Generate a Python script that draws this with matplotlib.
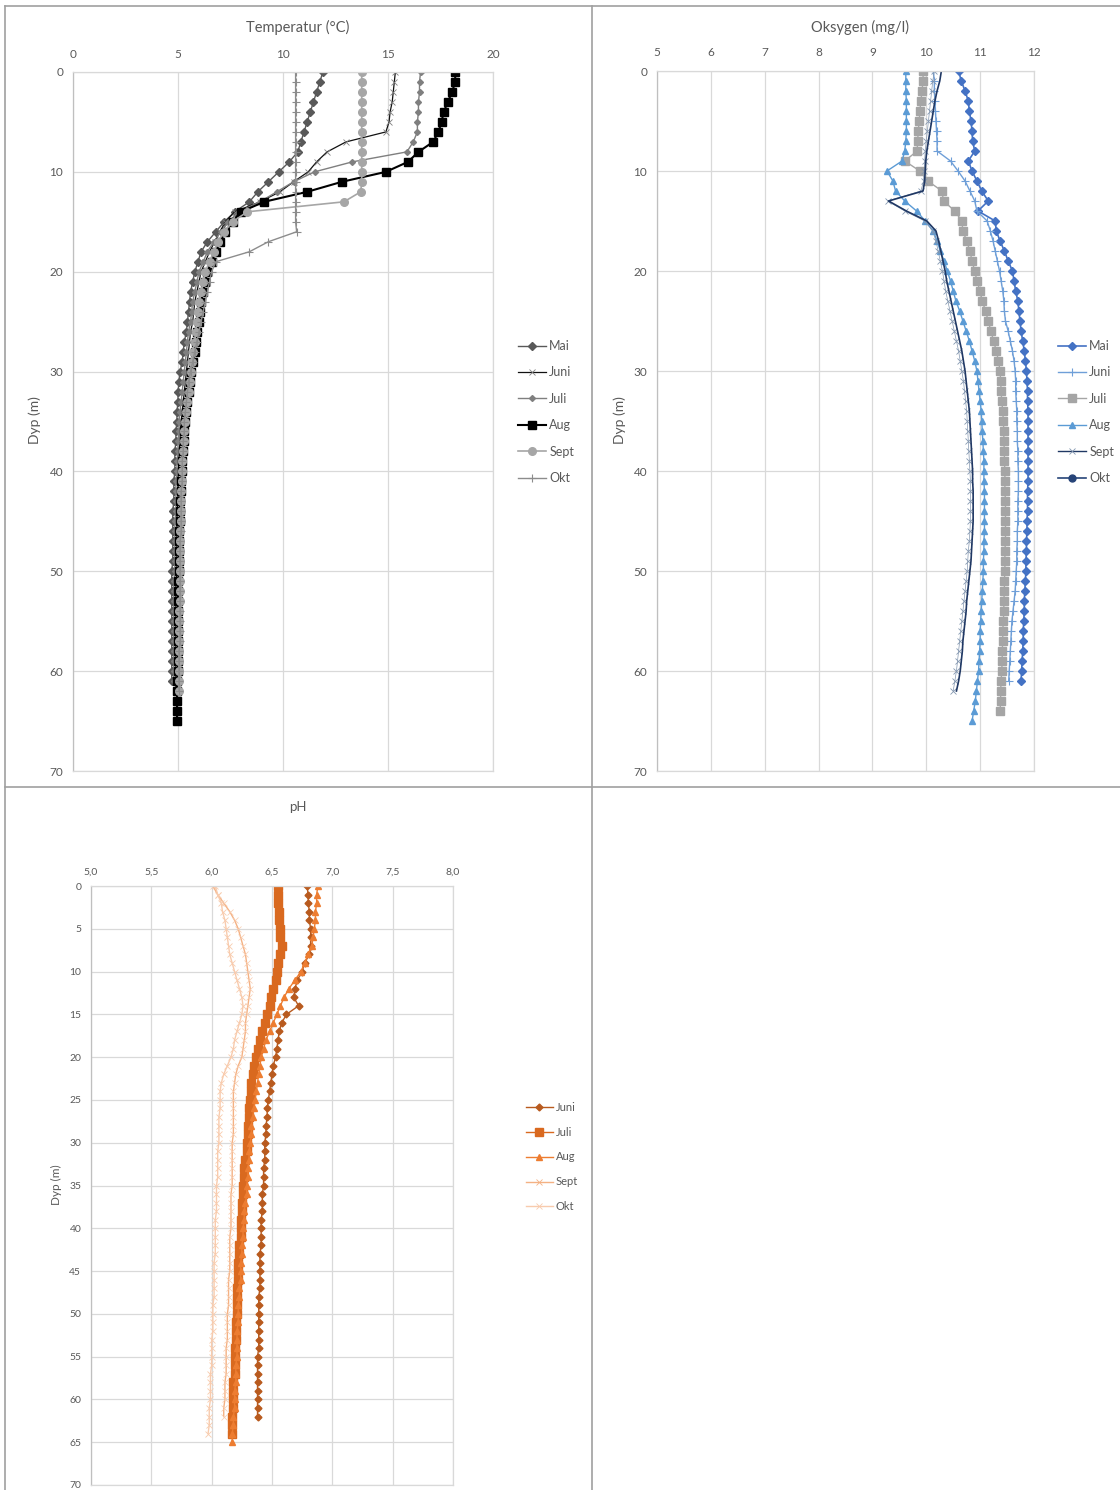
import matplotlib
matplotlib.use("Agg")
import matplotlib.pyplot as plt
from matplotlib.lines import Line2D
from matplotlib.ticker import FuncFormatter

plt.rcParams['font.family'] = ['Lato', 'DejaVu Sans']

# depth in metres, one reading per metre
depths = list(range(66))

# --- Temperatur (°C) ---
temp_mai = [11.9, 11.75, 11.6, 11.45, 11.3, 11.15, 11.0, 10.85, 10.7, 10.3,
            9.8, 9.3, 8.8, 8.4, 7.7, 7.2, 6.8, 6.4, 6.1, 5.95,
            5.8, 5.7, 5.6, 5.55, 5.5, 5.45, 5.4, 5.3, 5.25, 5.2,
            5.1, 5.05, 5.0, 5.0, 4.95, 4.95, 4.9, 4.9, 4.85, 4.85,
            4.85, 4.8, 4.8, 4.8, 4.75, 4.75, 4.75, 4.75, 4.75, 4.75,
            4.7, 4.7, 4.7, 4.7, 4.7, 4.7, 4.7, 4.7, 4.7, 4.7,
            4.7, 4.7]
temp_juni = [15.35, 15.3, 15.25, 15.2, 15.1, 15.05, 14.9, 13.0, 12.1, 11.6,
             11.2, 10.5, 9.85, 8.9, 7.7, 7.25, 7.0, 6.75, 6.5, 6.3,
             6.1, 6.0, 5.9, 5.8, 5.75, 5.7, 5.6, 5.55, 5.5, 5.45,
             5.4, 5.35, 5.3, 5.25, 5.2, 5.15, 5.1, 5.1, 5.05, 5.05,
             5.0, 5.0, 5.0, 5.0, 4.95, 4.95, 4.95, 4.95, 4.95, 4.95,
             4.95, 4.9, 4.9, 4.9, 4.9, 4.9, 4.9, 4.9, 4.9, 4.9,
             4.9, 4.9, 4.9]
temp_juli = [16.55, 16.5, 16.5, 16.45, 16.45, 16.4, 16.4, 16.2, 15.9, 13.3,
             11.5, 10.5, 9.7, 8.9, 7.9, 7.4, 7.05, 6.7, 6.4, 6.2,
             6.0, 5.9, 5.8, 5.7, 5.65, 5.6, 5.5, 5.45, 5.4, 5.35,
             5.3, 5.25, 5.2, 5.15, 5.1, 5.05, 5.05, 5.0, 5.0, 4.95,
             4.95, 4.9, 4.9, 4.9, 4.9, 4.85, 4.85, 4.85, 4.85, 4.85,
             4.85, 4.8, 4.8, 4.8, 4.8, 4.8, 4.8, 4.8, 4.8, 4.8,
             4.8, 4.8]
temp_aug = [18.2, 18.2, 18.05, 17.85, 17.65, 17.55, 17.4, 17.15, 16.45, 15.95,
            14.9, 12.8, 11.15, 9.1, 8.0, 7.6, 7.25, 7.0, 6.8, 6.6,
            6.4, 6.3, 6.2, 6.1, 6.05, 6.0, 5.9, 5.85, 5.8, 5.7,
            5.6, 5.55, 5.5, 5.45, 5.4, 5.35, 5.3, 5.3, 5.25, 5.2,
            5.2, 5.15, 5.15, 5.1, 5.1, 5.1, 5.05, 5.05, 5.05, 5.05,
            5.05, 5.0, 5.0, 5.0, 5.0, 5.0, 5.0, 5.0, 5.0, 5.0,
            5.0, 4.95, 4.95, 4.95, 4.95, 4.95]
temp_sept = [13.75, 13.75, 13.75, 13.75, 13.75, 13.75, 13.75, 13.75, 13.75, 13.75,
             13.75, 13.75, 13.7, 12.9, 8.3, 7.6, 7.2, 6.9, 6.7, 6.5,
             6.3, 6.2, 6.1, 6.0, 5.95, 5.9, 5.85, 5.8, 5.7, 5.65,
             5.6, 5.55, 5.5, 5.45, 5.4, 5.35, 5.3, 5.3, 5.25, 5.2,
             5.2, 5.2, 5.15, 5.15, 5.15, 5.15, 5.1, 5.1, 5.1, 5.1,
             5.1, 5.1, 5.1, 5.1, 5.05, 5.05, 5.05, 5.05, 5.05, 5.05,
             5.05, 5.05, 5.05]
temp_okt = [10.6, 10.6, 10.6, 10.6, 10.6, 10.6, 10.6, 10.6, 10.6, 10.6,
            10.6, 10.6, 10.6, 10.6, 10.6, 10.6, 10.65, 9.3, 8.4, 6.8,
            6.6, 6.5, 6.4, 6.3, 6.2, 6.1, 6.0, 5.9, 5.8, 5.7,
            5.6, 5.5, 5.45, 5.4, 5.35, 5.3, 5.3, 5.25, 5.25, 5.2,
            5.2, 5.2, 5.15, 5.15, 5.15, 5.15, 5.15, 5.1, 5.1, 5.1,
            5.1, 5.1, 5.1, 5.1, 5.1, 5.1, 5.1, 5.1, 5.05, 5.05,
            5.05, 5.05, 5.05]

# --- Oksygen (mg/l) ---
oks_mai = [10.6, 10.65, 10.72, 10.78, 10.8, 10.83, 10.85, 10.86, 10.9, 10.78,
           10.85, 10.94, 11.03, 11.15, 10.96, 11.28, 11.3, 11.37, 11.45, 11.52,
           11.6, 11.63, 11.66, 11.7, 11.72, 11.74, 11.76, 11.79, 11.82, 11.84,
           11.86, 11.87, 11.88, 11.88, 11.89, 11.89, 11.89, 11.89, 11.89, 11.89,
           11.89, 11.89, 11.88, 11.88, 11.88, 11.87, 11.87, 11.86, 11.86, 11.85,
           11.85, 11.84, 11.83, 11.82, 11.82, 11.81, 11.8, 11.8, 11.79, 11.78,
           11.77, 11.76]
oks_juni = [10.13, 10.15, 10.15, 10.16, 10.17, 10.18, 10.19, 10.2, 10.2, 10.45,
            10.59, 10.72, 10.81, 10.9, 10.94, 11.13, 11.19, 11.24, 11.28, 11.32,
            11.36, 11.39, 11.42, 11.44, 11.45, 11.47, 11.52, 11.56, 11.6, 11.63,
            11.65, 11.66, 11.66, 11.67, 11.68, 11.68, 11.69, 11.69, 11.7, 11.7,
            11.71, 11.71, 11.71, 11.7, 11.7, 11.7, 11.69, 11.69, 11.68, 11.68,
            11.67, 11.66, 11.65, 11.63, 11.61, 11.59, 11.58, 11.57, 11.56, 11.55,
            11.54, 11.53]
oks_juli = [9.94, 9.94, 9.92, 9.9, 9.88, 9.87, 9.85, 9.84, 9.83, 9.6,
            9.88, 10.03, 10.29, 10.32, 10.53, 10.66, 10.68, 10.75, 10.81, 10.85,
            10.9, 10.94, 11.0, 11.04, 11.1, 11.15, 11.2, 11.25, 11.3, 11.34,
            11.37, 11.38, 11.39, 11.4, 11.42, 11.43, 11.44, 11.44, 11.45, 11.45,
            11.46, 11.46, 11.46, 11.47, 11.47, 11.47, 11.47, 11.47, 11.46, 11.46,
            11.46, 11.45, 11.45, 11.44, 11.44, 11.43, 11.42, 11.42, 11.41, 11.41,
            11.4, 11.39, 11.38, 11.38, 11.37]
oks_aug = [9.62, 9.62, 9.62, 9.63, 9.63, 9.63, 9.63, 9.62, 9.6, 9.55,
           9.27, 9.38, 9.43, 9.6, 9.82, 9.98, 10.13, 10.2, 10.26, 10.33,
           10.39, 10.45, 10.5, 10.55, 10.62, 10.68, 10.74, 10.8, 10.85, 10.9,
           10.94, 10.96, 10.98, 11.0, 11.02, 11.03, 11.04, 11.05, 11.06, 11.07,
           11.07, 11.07, 11.08, 11.08, 11.08, 11.08, 11.08, 11.07, 11.07, 11.06,
           11.06, 11.05, 11.04, 11.03, 11.02, 11.01, 11.0, 11.0, 10.99, 10.98,
           10.97, 10.95, 10.93, 10.91, 10.88, 10.85]
oks_sept = [10.15, 10.12, 10.1, 10.08, 10.06, 10.04, 10.02, 10.0, 9.98, 9.97,
            9.96, 9.95, 9.9, 9.28, 9.6, 9.97, 10.12, 10.18, 10.22, 10.26,
            10.3, 10.33, 10.36, 10.4, 10.44, 10.48, 10.52, 10.56, 10.6, 10.63,
            10.66, 10.69, 10.71, 10.73, 10.75, 10.76, 10.77, 10.78, 10.79, 10.8,
            10.81, 10.82, 10.82, 10.82, 10.82, 10.82, 10.81, 10.8, 10.78, 10.77,
            10.76, 10.74, 10.72, 10.7, 10.68, 10.66, 10.64, 10.62, 10.6, 10.58,
            10.56, 10.53, 10.5]
oks_okt = [10.28, 10.25, 10.2, 10.16, 10.13, 10.1, 10.07, 10.04, 10.01, 9.99,
           9.98, 9.97, 9.94, 9.3, 9.63, 10.01, 10.18, 10.23, 10.27, 10.31,
           10.35, 10.38, 10.42, 10.46, 10.5, 10.54, 10.58, 10.62, 10.66, 10.69,
           10.72, 10.74, 10.76, 10.78, 10.8, 10.81, 10.82, 10.83, 10.84, 10.85,
           10.86, 10.86, 10.87, 10.87, 10.87, 10.87, 10.86, 10.85, 10.84, 10.83,
           10.81, 10.79, 10.77, 10.75, 10.74, 10.72, 10.7, 10.68, 10.67, 10.65,
           10.63, 10.6, 10.56]

# --- pH ---
ph_juni = [6.79, 6.8, 6.8, 6.81, 6.81, 6.82, 6.82, 6.82, 6.81, 6.77,
           6.75, 6.71, 6.69, 6.68, 6.72, 6.62, 6.58, 6.56, 6.55, 6.54,
           6.53, 6.51, 6.5, 6.49, 6.48, 6.47, 6.46, 6.46, 6.45, 6.45,
           6.44, 6.44, 6.44, 6.43, 6.43, 6.43, 6.42, 6.42, 6.42, 6.41,
           6.41, 6.41, 6.41, 6.4, 6.4, 6.4, 6.4, 6.4, 6.39, 6.39,
           6.39, 6.39, 6.39, 6.39, 6.39, 6.38, 6.38, 6.38, 6.38, 6.38,
           6.38, 6.38, 6.38]
ph_juli = [6.55, 6.55, 6.55, 6.56, 6.56, 6.57, 6.57, 6.58, 6.57, 6.55,
           6.54, 6.53, 6.51, 6.49, 6.48, 6.46, 6.44, 6.42, 6.4, 6.38,
           6.37, 6.35, 6.34, 6.33, 6.33, 6.32, 6.31, 6.31, 6.3, 6.3,
           6.29, 6.29, 6.28, 6.27, 6.27, 6.26, 6.26, 6.25, 6.25, 6.24,
           6.24, 6.24, 6.23, 6.23, 6.22, 6.22, 6.22, 6.21, 6.21, 6.21,
           6.21, 6.2, 6.2, 6.2, 6.19, 6.19, 6.19, 6.19, 6.18, 6.18,
           6.18, 6.18, 6.17, 6.17, 6.17]
ph_aug = [6.88, 6.87, 6.87, 6.86, 6.86, 6.85, 6.84, 6.83, 6.8, 6.77,
          6.74, 6.69, 6.64, 6.6, 6.57, 6.54, 6.51, 6.48, 6.45, 6.43,
          6.41, 6.4, 6.39, 6.38, 6.37, 6.36, 6.35, 6.34, 6.33, 6.33,
          6.32, 6.31, 6.31, 6.3, 6.3, 6.29, 6.29, 6.28, 6.27, 6.27,
          6.26, 6.26, 6.25, 6.25, 6.24, 6.24, 6.24, 6.23, 6.23, 6.22,
          6.22, 6.22, 6.21, 6.21, 6.21, 6.21, 6.2, 6.2, 6.2, 6.19,
          6.19, 6.19, 6.18, 6.18, 6.17, 6.17]
ph_sept = [6.01, 6.05, 6.1, 6.15, 6.19, 6.22, 6.24, 6.26, 6.28, 6.29,
           6.3, 6.31, 6.32, 6.31, 6.3, 6.29, 6.28, 6.28, 6.27, 6.26,
           6.25, 6.22, 6.2, 6.19, 6.18, 6.18, 6.18, 6.18, 6.18, 6.18,
           6.17, 6.17, 6.17, 6.17, 6.17, 6.17, 6.16, 6.16, 6.16, 6.16,
           6.16, 6.15, 6.15, 6.15, 6.15, 6.15, 6.14, 6.14, 6.14, 6.14,
           6.13, 6.13, 6.13, 6.13, 6.12, 6.12, 6.12, 6.12, 6.11, 6.11,
           6.11, 6.1, 6.1]
ph_okt = [6.03, 6.05, 6.08, 6.09, 6.11, 6.12, 6.13, 6.14, 6.15, 6.17,
          6.19, 6.21, 6.23, 6.25, 6.26, 6.25, 6.23, 6.21, 6.19, 6.18,
          6.16, 6.13, 6.1, 6.08, 6.07, 6.07, 6.07, 6.06, 6.06, 6.06,
          6.06, 6.05, 6.05, 6.05, 6.05, 6.04, 6.04, 6.04, 6.04, 6.03,
          6.03, 6.03, 6.03, 6.03, 6.02, 6.02, 6.02, 6.02, 6.02, 6.01,
          6.01, 6.01, 6.01, 6.0, 6.0, 6.0, 6.0, 5.99, 5.99, 5.99,
          5.99, 5.98, 5.98, 5.98, 5.97]

W, H = 1120, 1490
GRID = '#d9d9d9'
TXT = '#595959'

fig = plt.figure(figsize=(W / 100, H / 100), dpi=100)


def box(left, top, right, bottom):
    return [left / W, 1 - bottom / H, (right - left) / W, (bottom - top) / H]


def style(ax, xlim, xstep, ystep, size, xpad, ypad):
    ax.set_xlim(*xlim)
    ax.set_ylim(70, 0)
    ax.set_xticks([xlim[0] + i * xstep for i in range(int(round((xlim[1] - xlim[0]) / xstep)) + 1)])
    ax.set_yticks(range(0, 71, ystep))
    ax.xaxis.tick_top()
    ax.grid(True, color=GRID, lw=0.9)
    ax.set_axisbelow(True)
    for s in ax.spines.values():
        s.set_color(GRID)
        s.set_linewidth(0.9)
    ax.spines['left'].set_color('#bfbfbf')
    ax.tick_params(length=0, labelsize=size, colors=TXT)
    ax.tick_params(axis='x', pad=xpad)
    ax.tick_params(axis='y', pad=ypad)


def seg(vals):
    # value on x, depth on y
    return vals, depths[:len(vals)]


order = ['Mai', 'Juni', 'Juli', 'Aug', 'Sept', 'Okt']

# ---------- Temperatur ----------
# series drawn in month order, later months on top (as in the spreadsheet)
ax1 = fig.add_axes(box(73, 72, 493, 771))
style(ax1, (0, 20), 5, 10, 8.5, 9, 7)
ax1.plot(*seg(temp_mai), color='#595959', lw=1.0, marker='D', ms=3.8, label='Mai')
ax1.plot(*seg(temp_juni), color='#111111', lw=0.9, marker='x', ms=4.5, mew=0.6,
         mec='#7f7f7f', label='Juni')
ax1.plot(*seg(temp_juli), color='#7f7f7f', lw=1.0, marker='D', ms=3, label='Juli')
ax1.plot(*seg(temp_aug), color='black', lw=1.5, marker='s', ms=5.5, label='Aug')
ax1.plot(*seg(temp_sept), color='#a6a6a6', lw=1.2, marker='o', ms=5.5, label='Sept')
ax1.plot(*seg(temp_okt), color='#8c8c8c', lw=1.0, marker='+', ms=6, mew=0.8, label='Okt')
fig.legend(loc='center left', handles=ax1.get_legend_handles_labels()[0],
           bbox_to_anchor=(518 / W, 1 - 412 / H), frameon=False, fontsize=9,
           handlelength=2.2, handletextpad=0.3, labelspacing=1.15,
           borderpad=0, borderaxespad=0, labelcolor=TXT)

# ---------- Oksygen ----------
ax2 = fig.add_axes(box(657, 71, 1034, 771))
style(ax2, (5, 12), 1, 10, 8.5, 9, 7)
ax2.plot(*seg(oks_mai), color='#4472c4', lw=1.2, marker='D', ms=4)
ax2.plot(*seg(oks_juni), color='#6f9fd8', lw=1.0, marker='+', ms=6, mew=0.8)
ax2.plot(*seg(oks_juli), color='#a5a5a5', lw=1.0, marker='s', ms=5.5)
ax2.plot(*seg(oks_aug), color='#5b9bd5', lw=1.0, marker='^', ms=5)
ax2.plot(*seg(oks_sept), color='#8497b0', lw=0.5, marker='x', ms=4, mew=0.6)
ax2.plot(*seg(oks_okt), color='#203864', lw=1.2)
oks_handles = [
    Line2D([], [], color='#4472c4', lw=1.2, marker='D', ms=4),
    Line2D([], [], color='#6f9fd8', lw=1.0, marker='+', ms=6, mew=0.8),
    Line2D([], [], color='#a5a5a5', lw=1.0, marker='s', ms=5.5),
    Line2D([], [], color='#5b9bd5', lw=1.0, marker='^', ms=5),
    Line2D([], [], color='#203864', lw=1.0, marker='x', ms=5, mew=0.6, mec='#8497b0'),
    Line2D([], [], color='#264478', lw=1.2, marker='o', ms=5),
]
fig.legend(oks_handles, order, loc='center left',
           bbox_to_anchor=(1058 / W, 1 - 412 / H), frameon=False, fontsize=9,
           handlelength=2.2, handletextpad=0.3, labelspacing=1.15,
           borderpad=0, borderaxespad=0, labelcolor=TXT)

# ---------- pH ----------
ax3 = fig.add_axes(box(91, 886, 453, 1485))
style(ax3, (5.0, 8.0), 0.5, 5, 7.5, 7, 7)
ax3.xaxis.set_major_formatter(FuncFormatter(lambda v, p: f"{v:.1f}".replace('.', ',')))
ax3.plot(*seg(ph_juni), color='#b85a1e', lw=1.0, marker='D', ms=3.5)
ax3.plot(*seg(ph_juli), color='#d9691f', lw=1.0, marker='s', ms=5.5)
ax3.plot(*seg(ph_aug), color='#ed7d31', lw=1.0, marker='^', ms=5)
ax3.plot(*seg(ph_sept), color='#f4b183', lw=1.0, marker='x', ms=4, mew=0.5, mec='#f8cbad')
ax3.plot(*seg(ph_okt), color='#f8cbad', lw=1.0, marker='x', ms=4, mew=0.6)
ph_handles = [
    Line2D([], [], color='#b85a1e', lw=1.0, marker='D', ms=3.5),
    Line2D([], [], color='#d9691f', lw=1.0, marker='s', ms=5.5),
    Line2D([], [], color='#ed7d31', lw=1.0, marker='^', ms=5),
    Line2D([], [], color='#f4b183', lw=1.0, marker='x', ms=5, mew=0.6),
    Line2D([], [], color='#f8cbad', lw=1.0, marker='x', ms=5, mew=0.6),
]
fig.legend(ph_handles, ['Juni', 'Juli', 'Aug', 'Sept', 'Okt'], loc='center left',
           bbox_to_anchor=(526 / W, 1 - 1157 / H), frameon=False, fontsize=8,
           handlelength=2.4, handletextpad=0.3, labelspacing=1.25,
           borderpad=0, borderaxespad=0, labelcolor=TXT)

# titles and axis names
fig.text(298 / W, 1 - 27 / H, 'Temperatur (°C)', ha='center', va='center', fontsize=10.5, color=TXT)
fig.text(860 / W, 1 - 27 / H, 'Oksygen (mg/l)', ha='center', va='center', fontsize=10.5, color=TXT)
fig.text(298 / W, 1 - 807 / H, 'pH', ha='center', va='center', fontsize=9.5, color=TXT)
fig.text(35 / W, 1 - 420 / H, 'Dyp (m)', ha='center', va='center', rotation=90, fontsize=10, color=TXT)
fig.text(620 / W, 1 - 420 / H, 'Dyp (m)', ha='center', va='center', rotation=90, fontsize=10, color=TXT)
fig.text(56 / W, 1 - 1185 / H, 'Dyp (m)', ha='center', va='center', rotation=90, fontsize=8.5, color=TXT)

# chart frames
for xs, ys in [((5, 5), (6, H)), ((5, W), (6, 6)), ((592, 592), (6, H)), ((5, W), (787, 787))]:
    fig.add_artist(Line2D([x / W for x in xs], [1 - y / H for y in ys],
                          transform=fig.transFigure, color='#a0a0a0', lw=1.2))

fig.savefig('out.png', dpi=100, facecolor='white')
